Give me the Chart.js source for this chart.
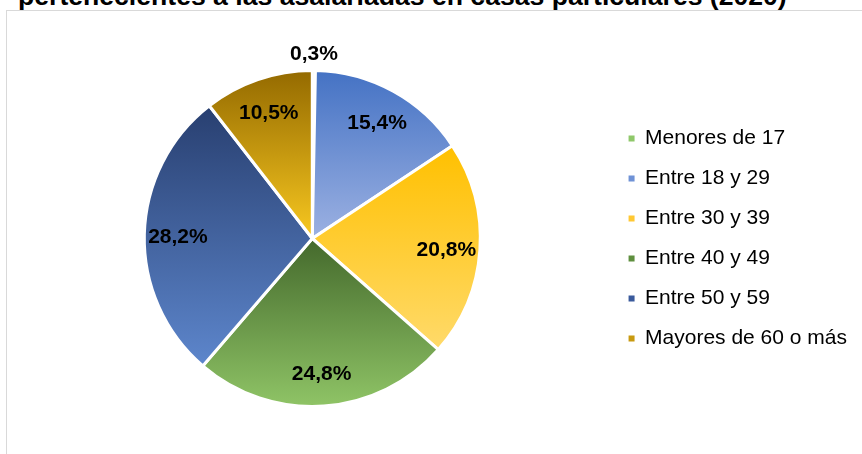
<!DOCTYPE html>
<html><head><meta charset="utf-8">
<script src="https://cdn.jsdelivr.net/npm/chart.js@4"></script>
<style>
html,body{margin:0;padding:0;background:#fff;overflow:hidden;width:862px;height:454px;}
#wrap{position:relative;width:862px;height:454px;overflow:hidden;}
#frame{position:absolute;left:6px;top:10px;width:900px;height:500px;border:1.5px solid #d9d9d9;box-sizing:border-box;}
#title{position:absolute;left:18px;top:-17.5px;font:bold 26.6px "Liberation Sans",Arial,sans-serif;line-height:26.6px;white-space:nowrap;color:#000;}
canvas{position:absolute;left:0;top:0;}
</style></head><body>
<div id="wrap"><div id="frame"></div><div id="title">pertenecientes a las asalariadas en casas particulares (2020)</div><canvas id="c" width="862" height="454"></canvas></div>
<script>
const categories = ["Menores de 17","Entre 18 y 29","Entre 30 y 39","Entre 40 y 49","Entre 50 y 59","Mayores de 60 o más"];
const values = [0.3, 15.4, 20.8, 24.8, 28.2, 10.5];
const topColors = ["#6a9f45","#4472c4","#ffc000","#44692c","#283f70","#946a00"];
const bottomColors = ["#a5d38a","#9cb1e2","#ffda6a","#8fc466","#5d86cc","#f8c820"];
const legendColors = ["#8fc86a","#6f92d6","#ffc833","#5e8f3e","#3a5a9c","#c89a10"];

const RADIUS = 168;
const total = values.reduce((a,b)=>a+b,0);

function sliceGradient(context){
  const i = context.dataIndex;
  const chart = context.chart;
  const ca = chart.chartArea;
  if (!ca) return topColors[i];
  const cx = (ca.left+ca.right)/2, cy = (ca.top+ca.bottom)/2;
  let cum = 0; for (let k=0;k<i;k++) cum += values[k];
  const s = -Math.PI/2 + cum/total*2*Math.PI;
  const e = s + values[i]/total*2*Math.PI;
  const ys = [cy, cy+RADIUS*Math.sin(s), cy+RADIUS*Math.sin(e)];
  const contains = (a)=>{ for (let t=a-4*Math.PI;t<=a+4*Math.PI;t+=2*Math.PI){ if (t>=s && t<=e) return true;} return false; };
  if (contains(-Math.PI/2)) ys.push(cy-RADIUS);
  if (contains(Math.PI/2)) ys.push(cy+RADIUS);
  const y0 = Math.min(...ys), y1 = Math.max(...ys);
  const g = chart.ctx.createLinearGradient(0,y0,0,y1);
  g.addColorStop(0, topColors[i]);
  g.addColorStop(1, bottomColors[i]);
  return g;
}

const labelPlugin = {
  id:'sliceLabels',
  afterDatasetsDraw(chart){
    const ctx = chart.ctx; const meta = chart.getDatasetMeta(0);
    ctx.save();
    ctx.font = 'bold 21px "Liberation Sans", Arial, sans-serif';
    ctx.fillStyle = '#000'; ctx.textAlign='center'; ctx.textBaseline='middle';
    meta.data.forEach((arc,i)=>{
      const p = arc.getProps(['x','y','startAngle','endAngle','outerRadius'], true);
      const mid = (p.startAngle+p.endAngle)/2;
      const f = values[i]/total < 0.02 ? 1.11 : 0.8;
      const txt = values[i].toFixed(1).replace('.',',') + '%';
      ctx.fillText(txt, p.x + Math.cos(mid)*p.outerRadius*f, p.y + 2 + Math.sin(mid)*p.outerRadius*f);
    });
    ctx.restore();
  }
};

new Chart(document.getElementById('c'), {
  type:'pie',
  data:{ labels: categories, datasets:[{ data: values, backgroundColor: sliceGradient, borderColor:'#ffffff', borderWidth:3 }]},
  options:{
    responsive:false, animation:false, radius: RADIUS,
    layout:{ padding:{ left:15, right:5, top:63, bottom:40 } },
    plugins:{
      tooltip:{enabled:false},
      title:{display:false},
      legend:{
        position:'right',
        labels:{
          boxWidth:6, boxHeight:6, padding:19, color:'#000',
          font:{ family:'"Liberation Sans", Arial, sans-serif', size:21 },
          generateLabels(chart){
            return categories.map((c,i)=>({ text:c, fillStyle:legendColors[i], strokeStyle:legendColors[i], lineWidth:0, index:i, hidden:false, fontColor:'#000' }));
          }
        }
      }
    }
  },
  plugins:[labelPlugin]
});
</script>
</body></html>
